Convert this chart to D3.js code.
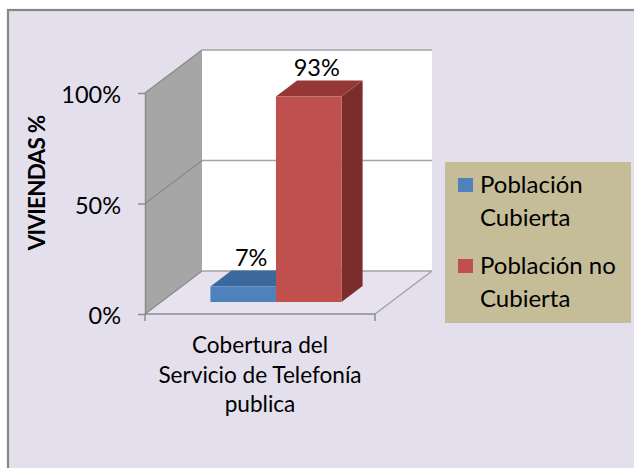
<!DOCTYPE html>
<html>
<head>
<meta charset="utf-8">
<script src="https://cdn.jsdelivr.net/npm/d3@7"></script>
<style>
  html, body { margin: 0; padding: 0; background: #ffffff; }
  svg { display: block; font-family: Lato, "Noto Sans", sans-serif; }
</style>
</head>
<body>
<svg id="chart" width="634" height="468"></svg>
<script>
// Data
const categories = ['Cobertura del Servicio de Telefonía publica'];
const categoryLines = ['Cobertura del', 'Servicio de Telefonía', 'publica'];
const seriesNames = ['Población Cubierta', 'Población no Cubierta'];
const seriesValues = [0.07, 0.93];
const legendLines = [['Población', 'Cubierta'], ['Población no', 'Cubierta']];
const tickValues = [0, 0.5, 1];
const axisTitle = 'VIVIENDAS %';

// Colours per series: front, top, side
const frontColors = ['#4f81bd', '#c0504d'];
const topColors = ['#3b689d', '#943735'];
const sideColors = ['#30598a', '#7b2d2b'];

const svg = d3.select('#chart');

// Chart area with frame
svg.append('rect')
  .attr('x', 8).attr('y', 10)
  .attr('width', 640).attr('height', 470)
  .attr('fill', '#e4dfec')
  .attr('stroke', '#878787').attr('stroke-width', 2.2);

// 3D plot geometry: front plane scales plus an oblique depth offset
const x0 = d3.scaleBand().domain(categories).range([145, 375])
  .paddingInner(0.43).paddingOuter(0.215);
const x1 = d3.scaleBand().domain(seriesNames).range([0, x0.bandwidth()]);
const y = d3.scaleLinear().domain([0, 1]).range([314, 93]);
const DX = 57, DY = 43;
const proj = (x, v, z) => [x + z * DX, y(v) - z * DY];
const [xL, xR] = x0.range();
const poly = pts => pts.map(p => p.join(',')).join(' ');

// Floor
svg.append('polygon')
  .attr('points', poly([proj(xL, 0, 0), proj(xR, 0, 0), proj(xR, 0, 1), proj(xL, 0, 1)]))
  .attr('fill', '#e7e3ee');
svg.append('line')
  .attr('x1', proj(xR, 0, 0)[0]).attr('y1', proj(xR, 0, 0)[1])
  .attr('x2', proj(xR, 0, 1)[0]).attr('y2', proj(xR, 0, 1)[1])
  .attr('stroke', '#a3a3a3').attr('stroke-width', 1.5);

// Side wall
svg.append('polygon')
  .attr('points', poly([proj(xL, 0, 0), proj(xL, 0, 1), proj(xL, 1, 1), proj(xL, 1, 0)]))
  .attr('fill', '#a6a6a6');

// Back wall
svg.append('polygon')
  .attr('points', poly([proj(xL, 0, 1), proj(xR, 0, 1), proj(xR, 1, 1), proj(xL, 1, 1)]))
  .attr('fill', '#ffffff');

// Gridlines on back and side walls
tickValues.forEach(t => {
  svg.append('line')
    .attr('x1', proj(xL, t, 1)[0]).attr('y1', proj(xL, t, 1)[1])
    .attr('x2', proj(xR, t, 1)[0]).attr('y2', proj(xR, t, 1)[1])
    .attr('stroke', '#a3a3a3').attr('stroke-width', 1.5);
  svg.append('line')
    .attr('x1', proj(xL, t, 0)[0]).attr('y1', proj(xL, t, 0)[1])
    .attr('x2', proj(xL, t, 1)[0]).attr('y2', proj(xL, t, 1)[1])
    .attr('stroke', '#8c8c8c').attr('stroke-width', 1.5);
});

// Value axis on the front edge of the side wall
const yAxis = svg.append('g')
  .attr('transform', `translate(${xL},0)`)
  .call(d3.axisLeft(y).tickValues(tickValues).tickFormat(d3.format('.0%'))
    .tickSize(7).tickSizeOuter(0).tickPadding(17));
yAxis.select('.domain').attr('stroke', '#8c8c8c').attr('stroke-width', 1.5);
yAxis.selectAll('.tick line').attr('stroke', '#8c8c8c').attr('stroke-width', 1.5);
yAxis.selectAll('.tick text')
  .attr('font-family', 'Lato, sans-serif').attr('font-size', 23.5)
  .attr('fill', '#000').attr('dy', '0.42em');

// Category axis along the front edge of the floor
svg.append('line')
  .attr('x1', xL).attr('y1', y(0)).attr('x2', xR).attr('y2', y(0))
  .attr('stroke', '#8c8c8c').attr('stroke-width', 1.5);
[xL, xR].forEach(xv => {
  svg.append('line')
    .attr('x1', xv).attr('y1', y(0)).attr('x2', xv).attr('y2', y(0) + 7)
    .attr('stroke', '#8c8c8c').attr('stroke-width', 1.5);
});
const catText = svg.append('text')
  .attr('x', (xL + xR) / 2).attr('y', 353)
  .attr('text-anchor', 'middle')
  .attr('font-size', 22.6).attr('fill', '#000');
categoryLines.forEach((line, i) => {
  catText.append('tspan')
    .attr('x', (xL + xR) / 2).attr('y', 353 + i * 29.5)
    .text(line);
});

// Bars: front face, top face and right side
const zF = 0.28, zB = 0.65;
seriesNames.forEach((name, i) => {
  const v = seriesValues[i];
  const a = x0(categories[0]) + x1(name);
  const b = a + x1.bandwidth();
  const g = svg.append('g');
  g.append('polygon')
    .attr('points', poly([proj(b, 0, zF), proj(b, v, zF), proj(b, v, zB), proj(b, 0, zB)]))
    .attr('fill', sideColors[i]);
  g.append('polygon')
    .attr('points', poly([proj(a, v, zF), proj(b, v, zF), proj(b, v, zB), proj(a, v, zB)]))
    .attr('fill', topColors[i]);
  g.append('polygon')
    .attr('points', poly([proj(a, 0, zF), proj(b, 0, zF), proj(b, v, zF), proj(a, v, zF)]))
    .attr('fill', frontColors[i]);
});

// Value labels above each bar
seriesNames.forEach((name, i) => {
  const v = seriesValues[i];
  const cx = x0(categories[0]) + x1(name) + x1.bandwidth() / 2;
  const p = proj(cx, v, zB);
  svg.append('text')
    .attr('x', proj(cx, v, zF)[0] + 8).attr('y', p[1] - 5)
    .attr('text-anchor', 'middle')
    .attr('font-size', 23.5).attr('fill', '#000')
    .text(d3.format('.0%')(v));
});

// Axis title
svg.append('text')
  .attr('transform', 'translate(45,183) rotate(-90)')
  .attr('text-anchor', 'middle')
  .attr('font-size', 22.5).attr('font-weight', 'bold')
  .attr('letter-spacing', -0.8).attr('fill', '#000')
  .text(axisTitle);

// Legend
svg.append('rect')
  .attr('x', 445).attr('y', 162).attr('width', 186).attr('height', 161)
  .attr('fill', '#c4bd97');
seriesNames.forEach((name, i) => {
  const top = 178 + i * 81;
  svg.append('rect')
    .attr('x', 458).attr('y', top).attr('width', 15).attr('height', 14)
    .attr('fill', frontColors[i]);
  legendLines[i].forEach((line, j) => {
    svg.append('text')
      .attr('x', 480).attr('y', top + 15 + j * 32.5)
      .attr('font-size', 24).attr('fill', '#000')
      .text(line);
  });
});
</script>
</body>
</html>
